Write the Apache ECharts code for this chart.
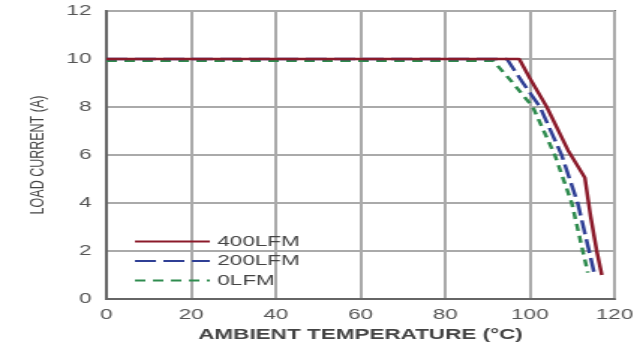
<!DOCTYPE html>
<html>
<head>
<meta charset="utf-8">
<script src="https://cdn.jsdelivr.net/npm/echarts@6/dist/echarts.min.js"></script>
<style>
html,body{margin:0;padding:0;background:#fff;overflow:hidden}
#wrap{width:640px;height:360px;overflow:hidden}
#c{width:427px;height:360px;transform:scaleX(1.4988);transform-origin:0 0}
</style>
</head>
<body>
<div id="wrap"><div id="c"></div></div>
<script>
var xTicks = [0, 20, 40, 60, 80, 100, 120];
var yTicks = [0, 2, 4, 6, 8, 10, 12];
var seriesNames = ['400LFM', '200LFM', '0LFM'];
var x400 = [0, 97.5, 100, 104, 109, 113, 114.3, 115.8, 117];
var y400 = [10, 10, 9.2, 8, 6.2, 5.05, 3.5, 2, 1];
var x200 = [0, 94.6, 98, 102.4, 107.5, 111.3, 114, 115.3];
var y200 = [10, 10, 9.1, 8, 6, 4, 2, 1];
var x0 = [0, 91.3, 96, 100.7, 105.9, 109.9, 112.5, 113.7];
var y0 = [9.93, 9.93, 9.0, 8, 6, 4, 2, 1.1];

function pairs(xs, ys) { return xs.map(function (x, i) { return [x, ys[i]]; }); }

var chart = echarts.init(document.getElementById('c'), null, {renderer: 'canvas'});
var font = 'Liberation Sans';
chart.setOption({
  animation: false,
  backgroundColor: '#fff',
  grid: {left: 71, right: 17, top: 11, bottom: 61, show: true, borderColor: '#666', borderWidth: 2, backgroundColor: 'transparent'},
  legend: {
    orient: 'vertical', left: 89, top: 234, padding: 0, itemWidth: 50, itemHeight: 14, itemGap: 4.5,
    textStyle: {fontFamily: font, fontSize: 15, color: '#444'},
    itemStyle: {opacity: 0},
    data: seriesNames
  },
  xAxis: {
    type: 'value', min: xTicks[0], max: xTicks[xTicks.length - 1], interval: 20,
    name: 'AMBIENT TEMPERATURE (°C)', nameLocation: 'middle', nameGap: 26,
    nameTextStyle: {fontFamily: font, fontSize: 15, fontWeight: 'bold', color: '#444'},
    axisLine: {show: true, lineStyle: {color: '#666', width: 2}},
    axisTick: {show: false},
    axisLabel: {fontFamily: font, fontSize: 15, color: '#555', margin: 8},
    splitLine: {show: true, lineStyle: {color: '#aaa', width: 2}}
  },
  yAxis: {
    type: 'value', min: yTicks[0], max: yTicks[yTicks.length - 1], interval: 2,
    name: 'LOAD CURRENT (A)', nameLocation: 'middle', nameGap: 39, nameRotate: 90,
    nameTextStyle: {fontFamily: font, fontSize: 12.5, color: '#444'},
    axisLine: {show: true, lineStyle: {color: '#666', width: 2}},
    axisTick: {show: false},
    axisLabel: {fontFamily: font, fontSize: 15, color: '#555', margin: 10},
    splitLine: {show: true, lineStyle: {color: '#aaa', width: 2}}
  },
  series: [
    {name: seriesNames[0], type: 'line', symbol: 'none', z: 5,
     data: pairs(x400, y400), lineStyle: {color: '#8b1a2a', width: 2.5}, itemStyle: {color: '#8b1a2a'}},
    {name: seriesNames[1], type: 'line', symbol: 'none', z: 4,
     data: pairs(x200, y200), lineStyle: {color: '#2f3f95', width: 2.5, type: [14, 5]}, itemStyle: {color: '#2f3f95'}},
    {name: seriesNames[2], type: 'line', symbol: 'none', z: 3,
     data: pairs(x0, y0), lineStyle: {color: '#2e8b4e', width: 2.5, type: [7, 5]}, itemStyle: {color: '#2e8b4e'}}
  ]
});
</script>
</body>
</html>
